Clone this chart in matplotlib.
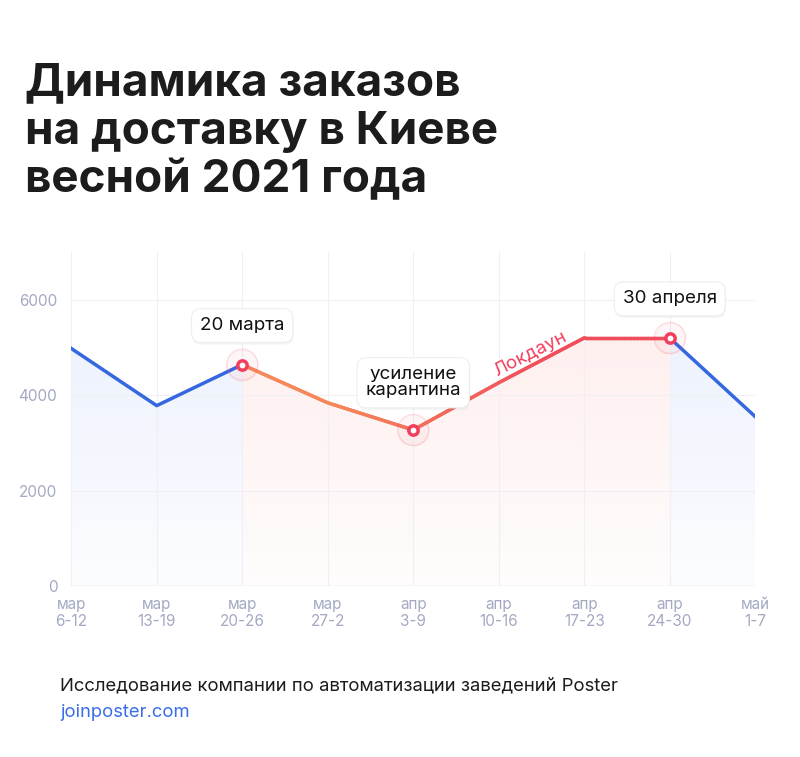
import numpy as np
import matplotlib
matplotlib.use("Agg")
import matplotlib.pyplot as plt
import matplotlib.patheffects as pe
from matplotlib.collections import LineCollection
from matplotlib.colors import to_rgb

weeks_top = ["мар", "мар", "мар", "мар", "апр", "апр", "апр", "апр", "май"]
weeks_bot = ["6-12", "13-19", "20-26", "27-2", "3-9", "10-16", "17-23", "24-30", "1-7"]
orders = [4980, 3780, 4640, 3840, 3270, 4260, 5200, 5200, 3550]
lockdown_start, lockdown_end = 2, 7
events = {2: "20 марта", 4: "усиление\nкарантина", 7: "30 апреля"}

plt.rcParams["font.family"] = "Inter"
fig = plt.figure(figsize=(8, 7.57), dpi=100)
ax = fig.add_axes([0.089, 0.226, 0.855, 0.441])
x = np.arange(len(orders))
y = np.array(orders, float)
ax.set_xlim(0, len(orders) - 1)
ax.set_ylim(0, 7000)

blue = "#3467e0"
orange = np.array(to_rgb("#f5895a"))
red = np.array(to_rgb("#f04e5c"))

def grad_fill(x0, x1, rgb):
    xs = np.linspace(x0, x1, 200)
    ys = np.interp(xs, x, y)
    poly = ax.fill_between(xs, 0, ys, color="none")
    g = np.linspace(0, 1, 256)[:, None]
    img = np.zeros((256, 1, 4))
    img[..., :3] = rgb
    img[..., 3] = 0.02 + 0.12 * g
    im = ax.imshow(img, extent=[x0, x1, 0, 7000], origin="lower", aspect="auto", zorder=1)
    im.set_clip_path(poly.get_paths()[0], transform=ax.transData)

grad_fill(0, lockdown_start, to_rgb("#5b86f0"))
grad_fill(lockdown_start, lockdown_end, to_rgb("#f7706a"))
grad_fill(lockdown_end, len(orders) - 1, to_rgb("#5b86f0"))

ax.plot(x[:lockdown_start + 1], y[:lockdown_start + 1], color=blue, lw=2.5, zorder=3)
ax.plot(x[lockdown_end:], y[lockdown_end:], color=blue, lw=2.5, zorder=3)
xs = np.linspace(lockdown_start, lockdown_end, 300)
ys = np.interp(xs, x, y)
pts = np.column_stack([xs, ys]).reshape(-1, 1, 2)
segs = np.concatenate([pts[:-1], pts[1:]], axis=1)
t = np.clip((xs[:-1] - 3) / 2.5, 0, 1)
cols = [orange * (1 - k) + red * k for k in t]
ax.add_collection(LineCollection(segs, colors=cols, lw=2.5, zorder=3, capstyle="round"))

for i, label in events.items():
    ax.scatter(x[i], y[i], s=500, color="#f04e5c", alpha=0.05, zorder=4)
    ax.scatter(x[i], y[i], s=500, facecolor="none", edgecolor="#f04e5c", alpha=0.15, lw=1, zorder=4)
    ax.scatter(x[i], y[i], s=45, facecolor="white", edgecolor="#f03e5c", lw=2.5, zorder=5)
    txt = ax.annotate(label, (x[i], y[i]), xytext=(0, 22),
                      textcoords="offset points", ha="center", va="bottom", fontsize=13.5,
                      linespacing=0.95, color="#111111", zorder=6,
                      bbox=dict(boxstyle="round,pad=0.45,rounding_size=0.5", fc="white", ec="#eeeeee", lw=0.8))
    txt.get_bbox_patch().set_path_effects([pe.SimplePatchShadow(offset=(0.5, -1.5), alpha=0.06), pe.Normal()])

ax.text(5.37, 4850, "Локдаун", rotation=27, color="#f03e5c", fontsize=13.5, ha="center", va="center")

ax.set_yticks([0, 2000, 4000, 6000])
ax.set_xticks(x)
ax.set_xticklabels([a + "\n" + b for a, b in zip(weeks_top, weeks_bot)])
ax.tick_params(length=0, colors="#a3a9c2", labelsize=11, pad=8)
ax.tick_params(axis="y", pad=10)
ax.grid(color="#efeff4", lw=0.8, zorder=0)
for s in ax.spines.values():
    s.set_visible(False)
ax.axhline(0, color="#e4e4ec", lw=1, zorder=2)

fig.text(0.031, 0.918, "Динамика заказов\nна доставку в Киеве\nвесной 2021 года", fontsize=33,
         fontweight="bold", color="#1c1c1c", va="top", linespacing=1.2)
fig.text(0.075, 0.088, "Исследование компании по автоматизации заведений Poster", fontsize=13.3, color="#1c1c1c")
fig.text(0.075, 0.053, "joinposter.com", fontsize=13.3, color="#3a6ee8")

fig.savefig("out.png", dpi=100)
